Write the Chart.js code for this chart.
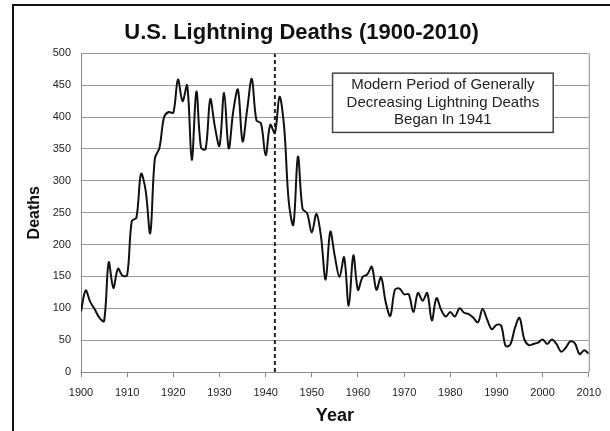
<!DOCTYPE html>
<html>
<head>
<meta charset="utf-8">
<script src="https://cdn.jsdelivr.net/npm/chart.js@4"></script>
<style>
html,body{margin:0;padding:0;background:#fff;}
#wrap{position:relative;width:610px;height:431px;overflow:hidden;}
#frame{position:absolute;left:12px;top:4px;width:700px;height:500px;border-left:2px solid #111;border-top:2px solid #111;}
canvas{position:absolute;left:0;top:0;}
</style>
</head>
<body>
<div id="wrap"><div id="frame"></div><canvas id="c" width="610" height="431"></canvas></div>
<script>
const years=[1900,1901,1902,1903,1904,1905,1906,1907,1908,1909,
1910,1911,1912,1913,1914,1915,1916,1917,1918,1919,
1920,1921,1922,1923,1924,1925,1926,1927,1928,1929,
1930,1931,1932,1933,1934,1935,1936,1937,1938,1939,
1940,1941,1942,1943,1944,1945,1946,1947,1948,1949,
1950,1951,1952,1953,1954,1955,1956,1957,1958,1959,
1960,1961,1962,1963,1964,1965,1966,1967,1968,1969,
1970,1971,1972,1973,1974,1975,1976,1977,1978,1979,
1980,1981,1982,1983,1984,1985,1986,1987,1988,1989,
1990,1991,1992,1993,1994,1995,1996,1997,1998,1999,
2000,2001,2002,2003,2004,2005,2006,2007,2008,2009,2010];
const deaths=[95,128,110,98,85,80,172,132,162,151,
152,237,242,311,285,218,335,352,400,408,
407,459,425,450,333,440,352,350,428,385,
355,438,351,410,443,362,412,460,395,390,
340,388,375,432,385,268,231,338,256,249,
219,248,212,145,220,181,149,180,104,183,
129,149,153,165,129,149,110,88,129,131,
122,122,94,124,112,124,81,116,98,87,
94,87,100,93,91,85,78,99,82,67,
74,73,41,43,69,85,52,42,44,46,
51,44,51,44,32,38,48,45,28,34,29];
const markYear=1942;
const noteLines=['Modern Period of Generally','Decreasing Lightning Deaths','Began In 1941'];
const titleText='U.S. Lightning Deaths (1900-2010)';

const narrow="'Liberation Sans Narrow','Arial Narrow',Arial,sans-serif";
const arial="'Liberation Sans',Arial,sans-serif";

// note box, in data units
const notePlugin={
  id:'note',
  afterDatasetsDraw(chart){
    const {ctx,chartArea:a,scales:{x,y}}=chart;
    ctx.save();
    ctx.strokeStyle='#888';ctx.lineWidth=1;
    ctx.beginPath();ctx.moveTo(a.right+0.5,a.top);ctx.lineTo(a.right+0.5,a.bottom);ctx.stroke();
    const l=x.getPixelForValue(1954.5),r=x.getPixelForValue(2002.3);
    const t=y.getPixelForValue(469),b=y.getPixelForValue(376);
    ctx.fillStyle='#fff';ctx.fillRect(l,t,r-l,b-t);
    ctx.strokeStyle='#444';ctx.lineWidth=1.5;ctx.strokeRect(l,t,r-l,b-t);
    ctx.fillStyle='#222';ctx.font='15px '+arial;ctx.textAlign='center';ctx.textBaseline='middle';
    noteLines.forEach((s,i)=>ctx.fillText(s,(l+r)/2,t+12+i*17.5));
    ctx.restore();
  }
};

new Chart(document.getElementById('c'),{
  type:'line',
  data:{datasets:[
    {data:years.map((v,i)=>({x:v,y:deaths[i]})),borderColor:'#111',borderWidth:2,pointRadius:0,tension:0.35,fill:false},
    {data:[{x:markYear,y:0},{x:markYear,y:500}],borderColor:'#222',borderWidth:2,borderDash:[4,3],pointRadius:0,tension:0}
  ]},
  options:{
    responsive:false,animation:false,
    layout:{padding:{left:14,right:21,top:0,bottom:0}},
    plugins:{
      legend:{display:false},tooltip:{enabled:false},
      title:{display:true,text:titleText,color:'#111',font:{family:arial,size:22,weight:'bold'},padding:{top:20,bottom:7}}
    },
    scales:{
      x:{type:'linear',min:1900,max:2010,
        ticks:{stepSize:10,color:'#222',font:{family:narrow,size:11},padding:9,callback:v=>String(v),maxRotation:0},
        grid:{drawOnChartArea:false,tickLength:5,color:'#888'},
        border:{color:'#888'},
        title:{display:true,text:'Year',color:'#111',font:{family:arial,size:18,weight:'bold'},padding:{top:4,bottom:4}},
        afterFit(s){s.height=59;}
      },
      y:{min:0,max:500,
        ticks:{stepSize:50,color:'#222',font:{family:narrow,size:11},padding:10},
        grid:{color:'#999',drawTicks:false},
        border:{color:'#888'},
        title:{display:true,text:'Deaths',color:'#111',font:{family:arial,size:16,weight:'bold'},padding:{top:11,bottom:4}},
        afterFit(s){s.width=67;}
      }
    }
  },
  plugins:[notePlugin]
});
</script>
</body>
</html>
